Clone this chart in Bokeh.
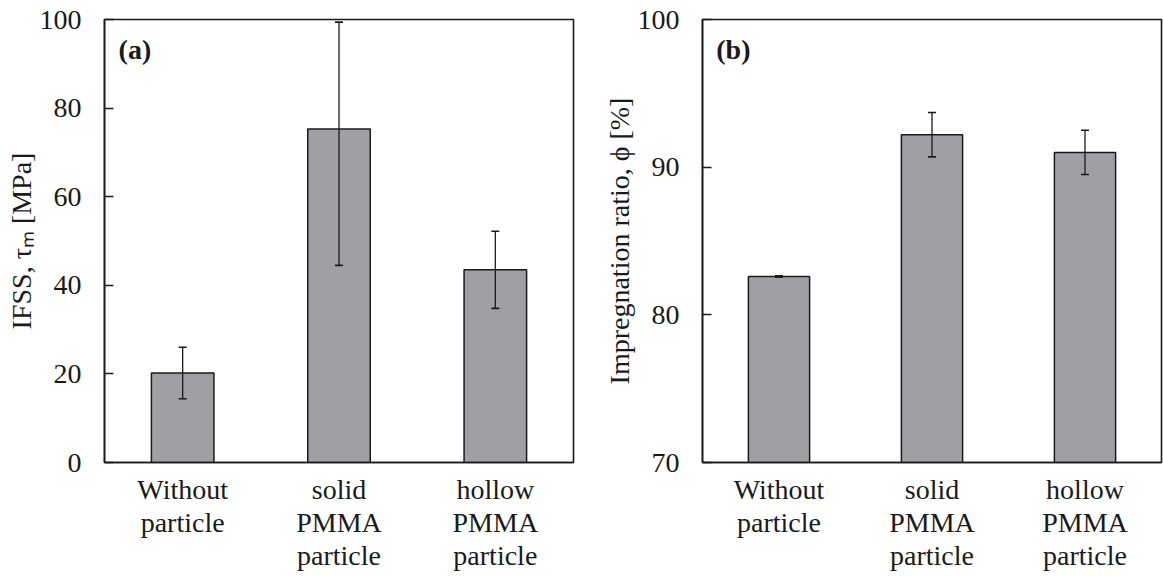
from bokeh.plotting import figure
from bokeh.layouts import row
from bokeh.models import ColumnDataSource, FactorRange, Range1d, Label, FixedTicker
from bokeh.embed import file_html
from bokeh.resources import INLINE

categories = ["Without\nparticle", "solid\nPMMA\nparticle", "hollow\nPMMA\nparticle"]
ifss = [20.2, 75.3, 43.5]
ifss_err = [5.8, 30.8, 8.7]
imp = [82.6, 92.2, 91.0]
imp_err = [0.05, 1.5, 1.5]
ifss_ticks = [0, 20, 40, 60, 80, 100]
imp_ticks = [70, 80, 90, 100]

FONT = "Liberation Serif"
BAR = "#a09fa4"
INK = "#1a1a1a"


def make_panel(vals, errs, base, ymax, ticks, ylabel, tag, tag_y, width, mbl, mbr):
    p = figure(x_range=FactorRange(*categories), y_range=Range1d(base, ymax),
               width=width, height=576, output_backend="svg", toolbar_location=None,
               min_border_left=mbl, min_border_right=mbr, min_border_top=19,
               min_border_bottom=114)
    # error bars are clipped at the axis maximum, as in the original chart
    clip = ymax - 0.006 * (ymax - base)
    src = ColumnDataSource(dict(x=categories, top=vals,
                                upper=[min(v + e, clip) for v, e in zip(vals, errs)],
                                lower=[v - e for v, e in zip(vals, errs)]))
    p.vbar(x="x", top="top", bottom=base, width=0.4, source=src,
           fill_color=BAR, line_color=INK, line_width=1.5)
    p.segment(x0="x", y0="lower", x1="x", y1="upper", source=src,
              line_color=INK, line_width=1.3)
    p.scatter(x="x", y="upper", source=src, marker="dash", size=8,
              line_color=INK, line_width=1.6)
    p.scatter(x="x", y="lower", source=src, marker="dash", size=8,
              line_color=INK, line_width=1.6)
    p.xgrid.visible = False
    p.ygrid.visible = False
    p.outline_line_color = INK
    p.outline_line_width = 1.6
    p.yaxis.ticker = FixedTicker(ticks=ticks)
    p.yaxis.minor_tick_line_color = None
    p.yaxis.major_tick_in = 9
    p.yaxis.major_tick_out = 0
    p.yaxis.major_tick_line_color = INK
    p.yaxis.major_tick_line_width = 1.3
    p.yaxis.major_label_standoff = 23
    p.yaxis.axis_label = ylabel
    p.yaxis.axis_label_standoff = 0
    p.xaxis.major_tick_line_color = None
    p.xaxis.minor_tick_line_color = None
    p.xaxis.major_label_standoff = 5
    for ax in (p.xaxis, p.yaxis):
        ax.axis_line_color = INK
        ax.axis_line_width = 1.6
        ax.major_label_text_font = FONT
        ax.major_label_text_font_size = "28px"
        ax.major_label_text_color = INK
        ax.axis_label_text_font = FONT
        ax.axis_label_text_font_size = "28px"
        ax.axis_label_text_font_style = "normal"
        ax.axis_label_text_color = INK
    p.xaxis.major_label_text_line_height = 1.08
    p.add_layout(Label(x=0.09, y=tag_y, text=tag, text_font=FONT,
                       text_font_size="28px", text_font_style="bold",
                       text_color=INK, text_baseline="top", text_align="left"))
    return p


p1 = make_panel(ifss, ifss_err, 0, 100, ifss_ticks, "IFSS, \u03c4\u2098 [MPa]", "(a)", 96.8,
                600, 104, 27)
p2 = make_panel(imp, imp_err, 70, 100, imp_ticks, "Impregnation ratio, \u03d5 [%]", "(b)", 99.05,
                563, 96, 2)

layout = row(p1, p2)
open("out.html", "w").write(file_html(layout, INLINE))
